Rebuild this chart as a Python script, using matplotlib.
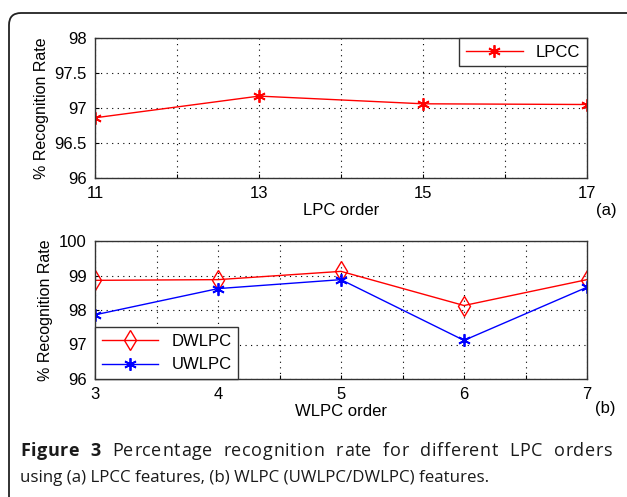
"""Recognition rate vs LPC / WLPC order, two stacked panels with caption."""

import matplotlib
matplotlib.use("Agg")
import matplotlib.pyplot as plt
from matplotlib.patches import FancyBboxPatch

# --- data ---
lpc_order = [11, 13, 15, 17]
lpcc_rate = [96.86, 97.17, 97.06, 97.05]

wlpc_order = [3, 4, 5, 6, 7]
dwlpc_rate = [98.86, 98.88, 99.12, 98.13, 98.88]
uwlpc_rate = [97.86, 98.62, 98.88, 97.12, 98.66]

W, H = 627, 497
plt.rcParams["font.family"] = ["Liberation Sans", "DejaVu Sans"]
fig = plt.figure(figsize=(W / 100, H / 100), dpi=100)
fig.patch.set_facecolor("white")

ASTERISK = (6, 2, 0)  # MATLAB-like '*' marker
FS = 12


def px_axes(left, top, right, bottom):
    return fig.add_axes([left / W, 1 - bottom / H, (right - left) / W, (bottom - top) / H])


def style(ax):
    ax.grid(True, which="major", linestyle=(0, (1, 4)), color="black", linewidth=0.8)
    ax.tick_params(direction="in", length=3, labelsize=FS, pad=6, colors="black")
    for s in ax.spines.values():
        s.set_linewidth(1.0)
        s.set_color("#333333")


# --- (a) LPCC ---
ax1 = px_axes(95, 38, 587, 178)
ax1.plot(lpc_order, lpcc_rate, color="red", marker=ASTERISK, markersize=9,
         markeredgewidth=1.3, linewidth=1.0, label="LPCC")
ax1.set_xlim(11, 17)
ax1.set_ylim(96, 98)
ax1.set_xticks(range(11, 18))
ax1.set_xticklabels([str(v) if v % 2 else "" for v in range(11, 18)])
ax1.set_yticks([96, 96.5, 97, 97.5, 98])
ax1.set_yticklabels(["96", "96.5", "97", "97.5", "98"])
style(ax1)
ax1.set_xlabel("LPC order", fontsize=FS, labelpad=1)
ax1.set_ylabel("% Recognition Rate", fontsize=11.5, labelpad=4)
leg1 = ax1.legend(loc="upper right", fontsize=FS, borderaxespad=0, handlelength=3.4,
                  fancybox=False, edgecolor="#333333", framealpha=1)
leg1.get_frame().set_linewidth(1.0)
fig.text(606 / W, 1 - 211 / H, "(a)", fontsize=FS, ha="center", va="center")

# --- (b) WLPC ---
ax2 = px_axes(95, 241, 587, 379)
ax2.plot(wlpc_order, dwlpc_rate, color="red", marker="d", markersize=10,
         markerfacecolor="none", markeredgecolor="red", linewidth=1.0, label="DWLPC")
ax2.plot(wlpc_order, uwlpc_rate, color="blue", marker=ASTERISK, markersize=9,
         markeredgewidth=1.3, linewidth=1.0, label="UWLPC")
ax2.set_xlim(3, 7)
ax2.set_ylim(96, 100)
ticks_b = [3, 3.5, 4, 4.5, 5, 5.5, 6, 6.5, 7]
ax2.set_xticks(ticks_b)
ax2.set_xticklabels([str(int(v)) if v == int(v) else "" for v in ticks_b])
ax2.set_yticks([96, 97, 98, 99, 100])
style(ax2)
ax2.set_xlabel("WLPC order", fontsize=FS, labelpad=1)
ax2.set_ylabel("% Recognition Rate", fontsize=11.5, labelpad=4)
leg2 = ax2.legend(loc="lower left", fontsize=FS, borderaxespad=0, handlelength=3.4,
                  fancybox=False, edgecolor="#333333", framealpha=1)
leg2.get_frame().set_linewidth(1.0)
fig.text(605 / W, 1 - 409 / H, "(b)", fontsize=FS, ha="center", va="center")

# --- caption card ---
card = FancyBboxPatch((9, -20), 660, 484 + 20, transform=None,
                      boxstyle="round,pad=0,rounding_size=12",
                      facecolor="none", edgecolor="#222222", linewidth=1.3,
                      zorder=-1)
fig.patches.append(card)

cap_font = ["Open Sans", "DejaVu Sans"]
cap_color = "#1a1a1a"
renderer = fig.canvas.get_renderer()


def text_width(s, weight, size):
    t = fig.text(0, 0, s, fontsize=size, fontweight=weight, family=cap_font)
    wd = t.get_window_extent(renderer).width
    t.remove()
    return wd


# line 1 is justified between x=20 and x=612 (slight tracking + wider word gaps)
size1 = 13.0
track = 0.6
words = [("Figure", "bold"), ("3", "bold"), ("Percentage", "normal"),
         ("recognition", "normal"), ("rate", "normal"), ("for", "normal"),
         ("different", "normal"), ("LPC", "normal"), ("orders", "normal")]
word_w = [text_width(w, wt, size1) + track * (len(w) - 1) for w, wt in words]
x_left, x_right = 20, 612
gap = (x_right - x_left - sum(word_w)) / (len(words) - 1)

x = x_left
for (w, wt), wd in zip(words, word_w):
    for k, ch in enumerate(w):
        pre = text_width(w[:k], wt, size1) if k else 0.0
        fig.text((x + pre + track * k) / W, 1 - 451 / H, ch, fontsize=size1,
                 fontweight=wt, family=cap_font, va="center", ha="left", color=cap_color)
    x += wd + gap

fig.text(20 / W, 1 - 478 / H,
         "using (a) LPCC features, (b) WLPC (UWLPC/DWLPC) features.",
         fontsize=12.2, family=cap_font, va="center", ha="left", color=cap_color)

fig.savefig("out.png", dpi=100)
